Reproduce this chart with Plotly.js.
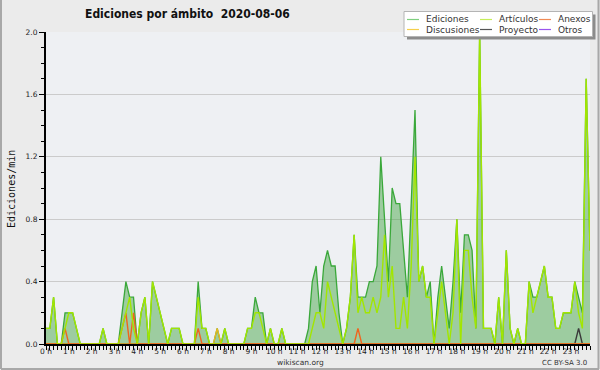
<!DOCTYPE html>
<html><head><meta charset="utf-8">
<script src="https://cdn.plot.ly/plotly-3.0.1.min.js"></script>
<style>html,body{margin:0;padding:0;background:#ebebeb;}#chart{width:600px;height:370px;}</style>
</head><body><div id="chart"></div>
<script>
// 10-minute samples, 00:00 .. 23:50 (edits per minute)
const ediciones = [
  0.1,0.1,0.3,0,0,0.2,
  0.2,0.2,0.1,0,0,0,
  0,0,0,0.1,0,0,
  0,0,0.2,0.4,0.3,0.3,
  0,0.2,0.3,0,0.4,0.3,
  0.2,0.1,0,0.1,0.1,0.1,
  0,0,0,0,0.4,0.1,
  0.1,0,0,0.1,0,0.1,
  0,0,0,0,0,0.1,
  0.1,0.3,0.2,0.2,0,0.1,
  0,0,0.1,0,0,0,
  0,0,0,0.1,0.4,0.5,
  0.2,0.5,0.6,0.5,0.5,0.2,
  0,0.1,0.3,0.7,0.3,0.3,
  0.3,0.4,0.4,0.5,1.2,0.8,
  0.4,1.0,0.9,0.9,0.6,0.3,
  0.9,1.5,0.4,0.5,0.3,0.4,
  0,0.3,0.5,0.3,0.1,0.4,
  0.8,0.2,0.7,0.7,0.6,0.1,
  2.0,0.1,0.1,0.1,0,0.3,
  0,0.6,0.1,0,0.1,0,
  0,0.4,0.3,0.3,0.4,0.5,
  0.3,0.3,0.1,0.1,0.2,0.2,
  0.2,0.4,0.3,0.2,1.7,0.6
];
const articulos = [
  0.1,0.1,0.3,0,0,0.1,
  0.2,0.2,0.1,0,0,0,
  0,0,0,0.1,0,0,
  0,0,0.1,0.2,0.3,0.1,
  0,0.2,0.3,0,0.4,0.3,
  0.2,0.1,0,0.1,0.1,0.1,
  0,0,0,0,0.3,0.1,
  0.1,0,0,0,0,0.1,
  0,0,0,0,0,0.1,
  0.1,0.2,0.2,0.1,0,0.1,
  0,0,0.1,0,0,0,
  0,0,0,0,0.1,0.2,
  0.2,0.1,0.4,0.3,0.2,0.1,
  0,0.1,0.3,0.7,0.2,0.3,
  0.2,0.2,0.3,0.2,0.3,0.7,
  0.3,0.5,0.1,0.1,0.3,0.1,
  0.5,1.2,0.4,0.5,0.3,0.3,
  0,0.2,0.4,0.2,0,0.2,
  0.8,0,0.6,0.6,0.3,0.1,
  2.0,0.1,0.1,0.1,0,0.3,
  0,0.6,0.1,0,0.1,0,
  0,0.4,0.2,0.3,0.4,0.5,
  0.3,0.3,0.1,0.1,0.2,0.2,
  0.2,0.4,0.2,0.1,1.7,0.6
];
const anexos = [
  0,0,0,0,0,0.1,
  0,0,0,0,0,0,
  0,0,0,0,0,0,
  0,0,0.1,0.2,0,0.2,
  0,0,0,0,0,0,
  0,0,0,0,0,0,
  0,0,0,0,0.1,0,
  0,0,0,0,0,0,
  0,0,0,0,0,0,
  0,0,0,0,0,0,
  0,0,0,0,0,0,
  0,0,0,0,0,0,
  0,0,0,0,0,0,
  0,0,0,0,0.1,0,
  0,0,0,0,0,0,
  0,0,0,0,0,0,
  0,0,0,0,0,0,
  0,0,0,0,0,0,
  0,0,0,0,0,0,
  0,0,0,0,0,0,
  0,0,0,0,0,0,
  0,0,0,0,0,0,
  0,0,0,0,0,0,
  0,0,0,0,0,0
];
const discusiones = [
  0,0,0,0,0,0,
  0,0,0,0,0,0,
  0,0,0,0,0,0,
  0,0,0,0,0,0,
  0,0,0,0,0,0,
  0,0,0,0,0,0,
  0,0,0,0,0,0,
  0,0,0,0.1,0,0,
  0,0,0,0,0,0,
  0,0,0,0,0,0,
  0,0,0,0,0,0,
  0,0,0,0,0,0,
  0,0,0,0,0,0,
  0,0,0,0,0,0,
  0,0,0,0,0,0,
  0,0,0,0,0,0,
  0,0,0,0,0,0,
  0,0,0,0,0,0,
  0,0,0,0,0,0,
  0,0,0,0,0,0,
  0,0,0,0,0,0,
  0,0,0,0,0,0,
  0,0,0,0,0,0,
  0,0,0,0,0,0
];
const proyecto = [
  0,0,0,0,0,0,
  0,0,0,0,0,0,
  0,0,0,0,0,0,
  0,0,0,0,0,0,
  0,0,0,0,0,0,
  0,0,0,0,0,0,
  0,0,0,0,0,0,
  0,0,0,0,0,0,
  0,0,0,0,0,0,
  0,0,0,0,0,0,
  0,0,0,0,0,0,
  0,0,0,0,0,0,
  0,0,0,0,0,0,
  0,0,0,0,0,0,
  0,0,0,0,0,0,
  0,0,0,0,0,0,
  0,0,0,0,0,0,
  0,0,0,0,0,0,
  0,0,0,0,0,0,
  0,0,0,0,0,0,
  0,0,0,0,0,0,
  0,0,0,0,0,0,
  0,0,0,0,0,0,
  0,0,0.1,0,0,0
];
const otros = [
  0,0,0,0,0,0, 0,0,0,0,0,0, 0,0,0,0,0,0, 0,0,0,0,0,0,
  0,0,0,0,0,0, 0,0,0,0,0,0, 0,0,0,0,0,0, 0,0,0,0,0,0,
  0,0,0,0,0,0, 0,0,0,0,0,0, 0,0,0,0,0,0, 0,0,0,0,0,0,
  0,0,0,0,0,0, 0,0,0,0,0,0, 0,0,0,0,0,0, 0,0,0,0,0,0,
  0,0,0,0,0,0, 0,0,0,0,0,0, 0,0,0,0,0,0, 0,0,0,0,0,0,
  0,0,0,0,0,0, 0,0,0,0,0,0, 0,0,0,0,0,0, 0,0,0,0,0,0
];
const seriesNames = ['Ediciones','Artículos','Anexos','Discusiones','Proyecto','Otros'];
const titleText = 'Ediciones por ámbito\u00a0 2020-08-06';
const yTitle = 'Ediciones/min';
const hourSuffix = ' h';

// ---- styling / geometry ----
const L = 46, R = 10, T = 32, B = 26, W = 600, H = 370;
const PW = W - L - R, PH = H - T - B;
const px = v => (v - L) / PW;
const py = v => (H - B - v) / PH;

const hours = ediciones.map((_, i) => i / 6);
const colors = {
  'Ediciones': '#3aa83a', 'Artículos': '#a2e600', 'Anexos': '#f0641e',
  'Discusiones': '#e8b820', 'Proyecto': '#3a3a3a', 'Otros': '#9a44e6'
};
const legendColors = {
  'Ediciones': '#7fcf7f', 'Artículos': '#c6ee5a', 'Anexos': '#f08a55',
  'Discusiones': '#f5cf4c', 'Proyecto': '#555555', 'Otros': '#9a55ee'
};
const valuesByName = {
  'Ediciones': ediciones, 'Artículos': articulos, 'Anexos': anexos,
  'Discusiones': discusiones, 'Proyecto': proyecto, 'Otros': otros
};

const drawOrder = ['Ediciones','Otros','Proyecto','Discusiones','Anexos','Artículos'];
const traces = drawOrder.map(name => {
  const t = {
    type: 'scatter', mode: 'lines', name: name, x: hours, y: valuesByName[name],
    line: {color: colors[name], width: name === 'Ediciones' ? 1.3 : 1.4},
    showlegend: false, hoverinfo: 'skip'
  };
  if (name === 'Ediciones') { t.fill = 'tozeroy'; t.fillcolor = 'rgba(70,165,70,0.48)'; }
  return t;
});

// legend (drawn from the series names)
const shapes = [];
const annotations = [];
// frame of the picture
shapes.push({type:'line', xref:'paper', yref:'paper', x0:px(1), x1:px(1), y0:py(0), y1:py(369), line:{color:'#a8a8a8', width:2}, layer:'above'});
shapes.push({type:'line', xref:'paper', yref:'paper', x0:px(1), x1:px(599), y0:py(369), y1:py(369), line:{color:'#a8a8a8', width:2}, layer:'above'});
shapes.push({type:'line', xref:'paper', yref:'paper', x0:px(598.5), x1:px(598.5), y0:py(0), y1:py(369), line:{color:'#a8a8a8', width:2}, layer:'above'});
// legend shadow + box
shapes.push({type:'rect', xref:'paper', yref:'paper', x0:px(407), x1:px(595.5), y0:py(39.5), y1:py(14.5), fillcolor:'#8c8c8c', line:{width:0}, layer:'above'});
shapes.push({type:'rect', xref:'paper', yref:'paper', x0:px(404), x1:px(592.5), y0:py(36.5), y1:py(11.5), fillcolor:'#ffffff', line:{color:'#b4b4b4', width:1}, layer:'above'});
const colX = [407, 480, 539];
const rowY = [19.5, 29.5];
seriesNames.forEach((name, k) => {
  const c = k % 3, r = Math.floor(k / 3);
  const x0 = colX[c];
  shapes.push({type:'line', xref:'paper', yref:'paper', x0:px(x0), x1:px(x0 + 12), y0:py(rowY[r]), y1:py(rowY[r]), line:{color:legendColors[name], width:1.2}, layer:'above'});
  annotations.push({xref:'paper', yref:'paper', x:px(x0 + 16.5), y:py(rowY[r]), xanchor:'left', yanchor:'middle', showarrow:false, text:name, font:{family:'DejaVu Sans', size:9, color:'#333'}});
});
annotations.push({xref:'paper', yref:'paper', x:px(11), y:py(189), textangle:-90, xanchor:'center', yanchor:'middle', showarrow:false, text:yTitle, font:{family:'DejaVu Sans Mono', size:10, color:'#111'}});
annotations.push({xref:'paper', yref:'paper', x:px(300), y:py(362), xanchor:'center', yanchor:'middle', showarrow:false, text:'wikiscan.org', font:{family:'DejaVu Sans', size:7.5, color:'#333'}});
annotations.push({xref:'paper', yref:'paper', x:px(589), y:py(362.5), xanchor:'right', yanchor:'middle', showarrow:false, text:'CC BY-SA 3.0', font:{family:'DejaVu Sans', size:7, color:'#333'}});

const layout = {
  width: W, height: H,
  margin: {l: L, r: R, t: T, b: B, pad: 0},
  paper_bgcolor: '#ebebeb', plot_bgcolor: '#eef0f3',
  showlegend: false,
  title: {text: titleText, xref: 'container', yref: 'container', x: 85/W, xanchor: 'left', y: 1 - 13.5/H, yanchor: 'middle',
          font: {family: 'DejaVu Sans Condensed, DejaVu Sans', size: 12, weight: 'bold', color: '#111'}},
  xaxis: {range: [0, (ediciones.length - 1) / 6], showline: true, linecolor: '#000', linewidth: 2,
          ticks: 'outside', ticklen: 4, tickwidth: 1, tickcolor: '#000', tick0: 0, dtick: 1, ticksuffix: hourSuffix,
          ticklabelstandoff: -5,
          tickfont: {family: 'DejaVu Sans', size: 7.5, color: '#222'}, showgrid: false, zeroline: false,
          minor: {dtick: 1/6, ticks: 'outside', ticklen: 4, tickwidth: 1, tickcolor: '#000', showgrid: false},
          fixedrange: true},
  yaxis: {range: [0, 2], showline: true, linecolor: '#000', linewidth: 2,
          ticks: 'outside', ticklen: 5, tickwidth: 1, tickcolor: '#000', tick0: 0, dtick: 0.4, tickformat: '.1f',
          tickfont: {family: 'DejaVu Sans', size: 7.5, color: '#222'}, showgrid: true, gridcolor: '#cbcbcb', gridwidth: 1,
          zeroline: false,
          minor: {dtick: 0.1, ticks: 'outside', ticklen: 3, tickwidth: 1, tickcolor: '#000', showgrid: false},
          fixedrange: true},
  shapes: shapes, annotations: annotations
};
Plotly.newPlot('chart', traces, layout, {displayModeBar: false, staticPlot: true});
</script></body></html>
